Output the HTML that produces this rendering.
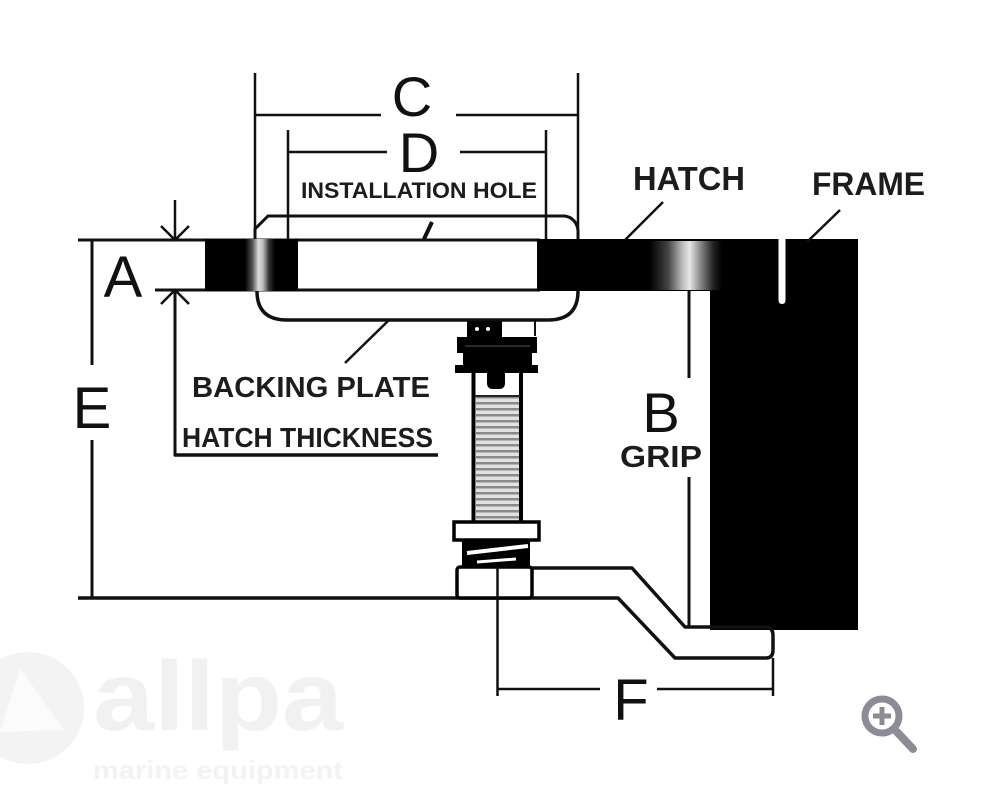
<!DOCTYPE html>
<html>
<head>
<meta charset="utf-8">
<style>
  html, body { margin: 0; padding: 0; background: #ffffff; }
  body { width: 1000px; height: 811px; overflow: hidden; }
  svg { display: block; }
  text { font-family: "Liberation Sans", Arial, sans-serif; }
</style>
</head>
<body>
<svg width="1000" height="811" viewBox="0 0 1000 811" xmlns="http://www.w3.org/2000/svg">
  <defs>
    <linearGradient id="gl" x1="245" y1="0" x2="275" y2="0" gradientUnits="userSpaceOnUse">
      <stop offset="0" stop-color="#000"/>
      <stop offset="0.25" stop-color="#555"/>
      <stop offset="0.45" stop-color="#ddd"/>
      <stop offset="0.6" stop-color="#bbb"/>
      <stop offset="0.8" stop-color="#333"/>
      <stop offset="1" stop-color="#000"/>
    </linearGradient>
    <linearGradient id="gr" x1="650" y1="0" x2="722" y2="0" gradientUnits="userSpaceOnUse">
      <stop offset="0" stop-color="#000"/>
      <stop offset="0.25" stop-color="#444"/>
      <stop offset="0.45" stop-color="#bbb"/>
      <stop offset="0.55" stop-color="#e6e6e6"/>
      <stop offset="0.7" stop-color="#888"/>
      <stop offset="0.88" stop-color="#222"/>
      <stop offset="1" stop-color="#000"/>
    </linearGradient>
    <pattern id="thr" x="0" y="396" width="10" height="6" patternUnits="userSpaceOnUse">
      <rect x="0" y="0" width="10" height="6" fill="#e2e2e2"/>
      <rect x="0" y="0" width="10" height="2.5" fill="#8a8a8a"/>
    </pattern>
  </defs>

  <!-- watermark -->
  <circle cx="28" cy="708" r="56" fill="#f3f3f3"/>
  <polygon points="20,668 64,730 0,732" fill="#fbfbfb"/>
  <text x="93" y="730" font-size="98" font-weight="bold" fill="#f1f1f1" textLength="250" lengthAdjust="spacingAndGlyphs">allpa</text>
  <text x="93" y="779" font-size="26" font-weight="bold" fill="#f3f3f3" textLength="250" lengthAdjust="spacingAndGlyphs">marine equipment</text>

  <g stroke="#111" fill="none" stroke-linecap="butt">
    <!-- C dimension -->
    <line x1="255" y1="73" x2="255" y2="232" stroke-width="2.5"/>
    <line x1="578" y1="73" x2="578" y2="236" stroke-width="2.5"/>
    <line x1="255" y1="115" x2="381" y2="115" stroke-width="2.5"/>
    <line x1="456" y1="115" x2="578" y2="115" stroke-width="2.5"/>
    <!-- D dimension -->
    <line x1="288" y1="130" x2="288" y2="240" stroke-width="2.5"/>
    <line x1="546" y1="130" x2="546" y2="240" stroke-width="2.5"/>
    <line x1="288" y1="152" x2="387" y2="152" stroke-width="2.5"/>
    <line x1="460" y1="152" x2="546" y2="152" stroke-width="2.5"/>

    <!-- backing plate top -->
    <path d="M255 240 V229 L268 216 H565 Q576 218 578 230 V240" stroke-width="3"/>
    <!-- backing plate bottom -->
    <path d="M257 291 Q257 320 287 320 H548 Q578 320 578 291" stroke-width="3.5"/>

    <!-- hatch top/bottom lines -->
    <line x1="78" y1="240" x2="540" y2="240" stroke-width="3"/>
    <line x1="155" y1="290" x2="540" y2="290" stroke-width="3"/>
  </g>

  <!-- hatch left black -->
  <rect x="205" y="239" width="93" height="52" fill="#000"/>
  <rect x="245" y="239" width="30" height="52" fill="url(#gl)"/>

  <!-- hatch right + frame black -->
  <path d="M537 239 H858 V630 H710 V291 H537 Z" fill="#000"/>
  <rect x="650" y="241" width="60" height="49" fill="url(#gr)"/>
  <rect x="710" y="241" width="12" height="49" fill="url(#gr)"/>
  <path d="M778.5 238 H785.5 V300 Q785.5 304 782 304 Q778.5 304 778.5 300 Z" fill="#fff"/>

  <g stroke="#111" fill="none">
    <!-- installation hole leader -->
    <line x1="432" y1="222" x2="424" y2="239" stroke-width="4"/>
    <!-- hatch leader -->
    <line x1="663" y1="202" x2="625" y2="240" stroke-width="2.5"/>
    <!-- frame leader -->
    <line x1="840" y1="210" x2="807" y2="242" stroke-width="2.5"/>
    <!-- backing plate leader -->
    <line x1="345" y1="363" x2="388" y2="321" stroke-width="2.5"/>

    <!-- A arrows -->
    <line x1="175" y1="200" x2="175" y2="240" stroke-width="2.5"/>
    <polyline points="161,226 175,240 189,226" stroke-width="2.5"/>
    <polyline points="161,304 175,290 189,304" stroke-width="2.5"/>
    <line x1="175" y1="290" x2="175" y2="456" stroke-width="3"/>
    <line x1="174" y1="455" x2="438" y2="455" stroke-width="3.5"/>

    <!-- E -->
    <line x1="92" y1="240" x2="92" y2="365" stroke-width="3"/>
    <line x1="92" y1="440" x2="92" y2="598" stroke-width="3"/>

    <!-- B -->
    <line x1="689" y1="291" x2="689" y2="378" stroke-width="3"/>
    <line x1="689" y1="477" x2="689" y2="627" stroke-width="3"/>

    <!-- arm + bottom line -->
    <path d="M532 568 H632 L685 627 H766 Q773 627 773 636 V650 Q773 658 766 658 H675 L618 598 H78" stroke-width="3.5" stroke-linejoin="round"/>

    <!-- F -->
    <line x1="773" y1="658" x2="773" y2="696" stroke-width="2.5"/>
    <line x1="497.5" y1="567" x2="497.5" y2="696" stroke-width="2.5"/>
    <line x1="497" y1="689" x2="600" y2="689" stroke-width="2.5"/>
    <line x1="657" y1="689" x2="773" y2="689" stroke-width="2.5"/>

    <!-- collar right outline -->
    <line x1="535" y1="320" x2="535" y2="336" stroke-width="2"/>
  </g>

  <!-- bolt -->
  <rect x="467" y="321" width="35" height="17" fill="#000"/>
  <circle cx="477" cy="329" r="2" fill="#fff"/>
  <circle cx="488" cy="329" r="2" fill="#fff"/>
  <path d="M457 337 H537 V353 H532 V365 H538 V373 H455 V365 H463 V353 H457 Z" fill="#000"/>
  <line x1="465" y1="346" x2="530" y2="346" stroke="#555" stroke-width="1"/>
  <!-- threads -->
  <rect x="476" y="396" width="43" height="126" fill="url(#thr)"/>
  <!-- shaft outline -->
  <line x1="473.5" y1="372" x2="473.5" y2="523" stroke="#000" stroke-width="4"/>
  <line x1="521" y1="372" x2="521" y2="523" stroke="#000" stroke-width="4"/>
  <line x1="475" y1="396" x2="520" y2="396" stroke="#222" stroke-width="2"/>
  <path d="M487 372 H505 V383 Q505 389 499 389 H493 Q487 389 487 383 Z" fill="#000"/>
  <!-- washer -->
  <rect x="454" y="522" width="85" height="18" fill="#fff" stroke="#000" stroke-width="3.5"/>
  <!-- spring -->
  <rect x="462" y="540" width="68" height="27" fill="#000"/>
  <line x1="467" y1="553" x2="528" y2="546" stroke="#fff" stroke-width="4"/>
  <line x1="477" y1="562" x2="516" y2="559" stroke="#fff" stroke-width="3"/>
  <!-- nut -->
  <rect x="457" y="567" width="75" height="31" rx="3" fill="#fff" stroke="#000" stroke-width="3.5"/>
  <line x1="497.5" y1="567" x2="497.5" y2="600" stroke="#111" stroke-width="2.5"/>

  <!-- letters -->
  <g fill="#111">
    <text x="412" y="116" font-size="56" text-anchor="middle">C</text>
    <text x="419" y="172" font-size="56" text-anchor="middle">D</text>
    <text x="123" y="297" font-size="58" text-anchor="middle">A</text>
    <text x="92" y="428" font-size="58" text-anchor="middle">E</text>
    <text x="661" y="432" font-size="56" text-anchor="middle">B</text>
    <text x="631" y="720" font-size="58" text-anchor="middle">F</text>
  </g>
  <g fill="#1c1c1c" font-weight="bold">
    <text x="301" y="198" font-size="22" textLength="236" lengthAdjust="spacingAndGlyphs">INSTALLATION HOLE</text>
    <text x="633" y="190" font-size="33" textLength="112" lengthAdjust="spacingAndGlyphs">HATCH</text>
    <text x="812" y="195" font-size="32" textLength="113" lengthAdjust="spacingAndGlyphs">FRAME</text>
    <text x="192" y="397" font-size="29" textLength="238" lengthAdjust="spacingAndGlyphs">BACKING PLATE</text>
    <text x="182" y="447" font-size="28" textLength="251" lengthAdjust="spacingAndGlyphs">HATCH THICKNESS</text>
    <text x="620" y="467" font-size="31" textLength="82" lengthAdjust="spacingAndGlyphs">GRIP</text>
  </g>

  <!-- magnifier icon -->
  <g stroke="#8c8c96" fill="none" stroke-linecap="round">
    <circle cx="882" cy="716" r="17" stroke-width="7"/>
    <line x1="873" y1="716" x2="891" y2="716" stroke-width="5" stroke-linecap="butt"/>
    <line x1="882" y1="707" x2="882" y2="725" stroke-width="5" stroke-linecap="butt"/>
    <line x1="897" y1="732" x2="913" y2="749" stroke-width="8"/>
  </g>
</svg>
</body>
</html>
